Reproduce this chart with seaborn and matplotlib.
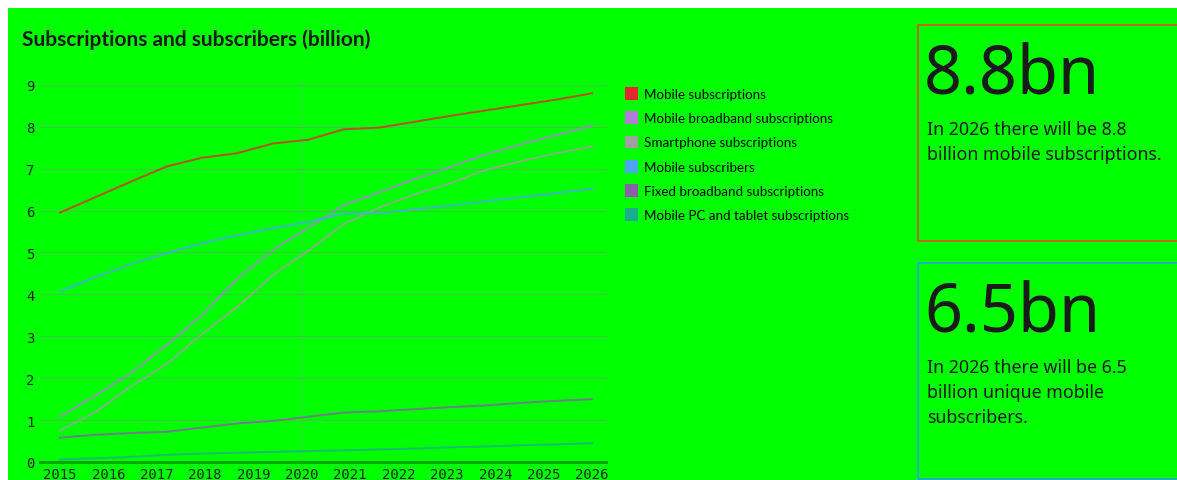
import numpy as np
import pandas as pd
import matplotlib
matplotlib.use("Agg")
import matplotlib.pyplot as plt
from matplotlib.patches import Rectangle, Patch
import seaborn as sns

# ---------------- data ----------------
years = list(range(2011, 2027))
tick_labels = [str(y) for y in range(2015, 2027)]

mobile_subscriptions = [5.95, 6.32, 6.69, 7.05, 7.26, 7.37, 7.60, 7.69, 7.94, 7.98, 8.12, 8.26, 8.39, 8.52, 8.65, 8.80]
mobile_broadband = [1.08, 1.58, 2.12, 2.78, 3.50, 4.37, 5.06, 5.59, 6.13, 6.43, 6.75, 7.04, 7.34, 7.58, 7.80, 8.03]
smartphone = [0.75, 1.19, 1.80, 2.33, 3.05, 3.70, 4.46, 5.04, 5.68, 6.07, 6.39, 6.65, 6.97, 7.18, 7.37, 7.53]
mobile_subscribers = [4.07, 4.41, 4.72, 4.98, 5.22, 5.41, 5.58, 5.73, 5.93, 5.93, 6.03, 6.12, 6.22, 6.32, 6.42, 6.52]
fixed_broadband = [0.58, 0.65, 0.69, 0.72, 0.82, 0.92, 0.98, 1.08, 1.18, 1.21, 1.26, 1.31, 1.35, 1.41, 1.46, 1.50]
mobile_pc_tablet = [0.06, 0.09, 0.12, 0.17, 0.20, 0.22, 0.24, 0.26, 0.28, 0.30, 0.32, 0.35, 0.37, 0.40, 0.42, 0.45]

series_names = ["Mobile subscriptions", "Mobile broadband subscriptions", "Smartphone subscriptions",
                "Mobile subscribers", "Fixed broadband subscriptions", "Mobile PC and tablet subscriptions"]
series_values = [mobile_subscriptions, mobile_broadband, smartphone,
                 mobile_subscribers, fixed_broadband, mobile_pc_tablet]
series_colors = ["#e5262d", "#b07cd8", "#a0a0a0", "#4da6f0", "#8a5fa8", "#1aaf8c"]

title = "Subscriptions and subscribers (billion)"
card_values = ["8.8bn", "6.5bn"]
card_texts = ["In 2026 there will be 8.8\nbillion mobile subscriptions.",
              "In 2026 there will be 6.5\nbillion unique mobile\nsubscribers."]
card_colors = ["#f0402a", "#2a9df0"]

df = pd.DataFrame([
    {"year": y, "value": v, "series": name}
    for name, vals in zip(series_names, series_values)
    for y, v in zip(years, vals)
])

# ---------------- figure ----------------
W, H = 1177, 481
fig = plt.figure(figsize=(W / 100, H / 100), dpi=100, facecolor="white")
GREEN = "#00ff00"
fig.add_artist(Rectangle((8 / W, 0), 1, 1 - 9 / H, transform=fig.transFigure,
                         facecolor=GREEN, edgecolor="none", zorder=0))

ax = fig.add_axes([40 / W, 18 / H, (606 - 40) / W, (463 - 79.6) / H])
ax.set_facecolor("none")

sns.lineplot(data=df, x="year", y="value", hue="series", hue_order=series_names,
             palette=dict(zip(series_names, series_colors)), ax=ax,
             linewidth=1.4, alpha=0.8, legend=False, zorder=3)

ax.set_xlim(2010.44, 2026.39)
ax.set_ylim(0, 9.15)
tick_pos = np.linspace(years[0], years[-1], len(tick_labels))
ax.set_xticks(tick_pos)
ax.set_xticklabels(tick_labels)
ax.set_yticks(range(0, 10))
ax.set_xlabel("")
ax.set_ylabel("")
for s in ["top", "right", "left"]:
    ax.spines[s].set_visible(False)
ax.spines["bottom"].set_color("#00aa00")
ax.spines["bottom"].set_linewidth(2.2)
ax.grid(axis="y", color="#8a8a8a", linewidth=0.7, alpha=0.5, zorder=1)
ax.grid(axis="x", visible=False)
ax.axvline(tick_pos[5], color="#9a9a9a", linewidth=0.6, alpha=0.3, zorder=1)
ax.tick_params(axis="both", length=0, labelsize=10, labelcolor="#1a2a1a")
ax.tick_params(axis="y", pad=4)
ax.tick_params(axis="x", pad=3.5)
for lab in ax.get_xticklabels() + ax.get_yticklabels():
    lab.set_family("DejaVu Sans Mono")

fig.text(22 / W, 1 - 40 / H, title, fontsize=15, fontweight="bold", family="Lato",
         color="#1a1a1a", va="center", ha="left")

handles = [Patch(facecolor=c, edgecolor="none") for c in series_colors]
fig.legend(handles, series_names, loc="upper left", bbox_to_anchor=(625 / W, 1 - 88 / H),
           frameon=False, handlelength=1.0, handleheight=1.1,
           handletextpad=0.4, labelspacing=0.85, borderpad=0, borderaxespad=0,
           prop={"family": "Lato", "size": 9.6})

# ---------------- cards ----------------
card_tops = [26, 264]
for val, txt, col, top in zip(card_values, card_texts, card_colors, card_tops):
    fig.add_artist(Rectangle((917.5 / W, 1 - (top + 216) / H), 400 / W, 216 / H,
                             transform=fig.transFigure, fill=False, edgecolor=col,
                             linewidth=1.1, zorder=2))
    fig.text(924 / W, 1 - (top + 50) / H, val, fontsize=48, family="Noto Sans",
             color="#1a1a1a", va="center", ha="left")
    fig.text(927 / W, 1 - (top + 95) / H, txt, fontsize=12.8, family="Noto Sans",
             color="#1a1a1a", va="top", ha="left", linespacing=1.5)

fig.savefig("out.png", dpi=100, facecolor=fig.get_facecolor())
